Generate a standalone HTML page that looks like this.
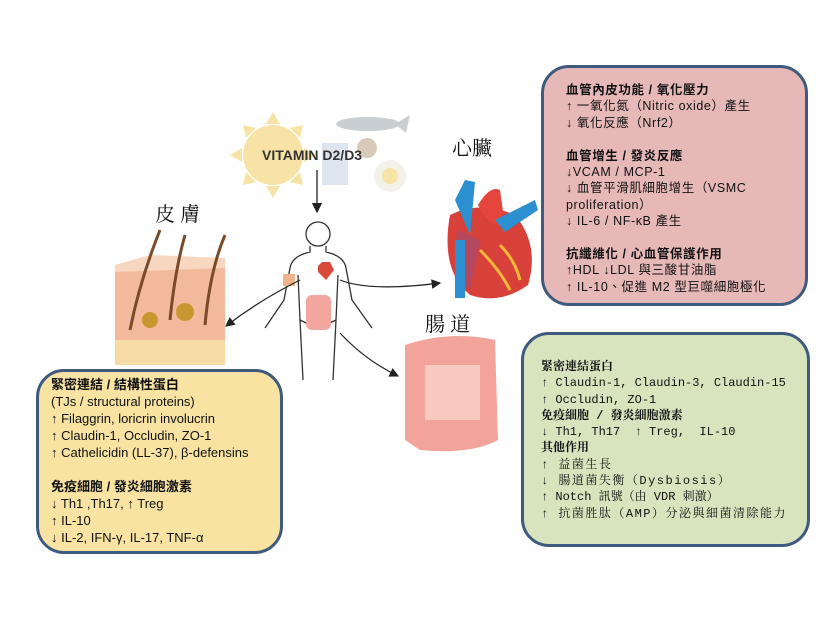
<!DOCTYPE html>
<html><head><meta charset="utf-8"><style>
body{margin:0;width:830px;height:623px;background:#fff;position:relative;overflow:hidden;font-family:"Liberation Sans","Noto Sans CJK TC",sans-serif}
.box{position:absolute;border:3px solid #3e5a7e;border-radius:28px;box-sizing:border-box;color:#111;white-space:nowrap}
.b{font-weight:bold}
.lbl{position:absolute;font-family:"Noto Serif CJK SC","Noto Sans CJK TC",serif;font-size:20px;color:#111}
</style></head><body>
<svg width="830" height="623" style="position:absolute;left:0;top:0">
<defs><marker id="a" markerWidth="8" markerHeight="8" refX="7" refY="4" orient="auto"><path d="M0,0L8,4L0,8z" fill="#222"/></marker></defs>
<g fill="#f8e3a6"><circle cx="273" cy="155" r="30"/>
<polygon points="273,112 266,124 280,124"/><polygon points="273,198 266,186 280,186"/>
<polygon points="230,155 242,148 242,162"/><polygon points="316,155 304,148 304,162"/>
<polygon points="243,125 256,128 246,138"/><polygon points="303,125 290,128 300,138"/>
<polygon points="243,185 256,182 246,172"/><polygon points="303,185 290,182 300,172"/></g>
<ellipse cx="368" cy="124" rx="32" ry="7" fill="#c9ced3"/><polygon points="395,124 410,115 406,133" fill="#c9ced3"/>
<rect x="322" y="143" width="26" height="42" fill="#dde6ee"/>
<circle cx="367" cy="148" r="10" fill="#d9c9b8"/>
<circle cx="390" cy="176" r="16" fill="#f3f1e8"/><circle cx="390" cy="176" r="8" fill="#f8e3a6"/>
<line x1="317" y1="170" x2="317" y2="212" stroke="#222" stroke-width="1.3" marker-end="url(#a)"/>
<g fill="none" stroke="#333" stroke-width="1.3">
<circle cx="318" cy="234" r="12"/>
<path d="M310,246 L310,252 Q292,256 290,268 L284,300 L265,328 M326,246 L326,252 Q344,256 346,268 L352,300 L372,328 M298,275 L300,320 L303,380 M338,275 L336,320 L333,380 M300,320 Q318,330 336,320"/>
</g>
<rect x="283" y="274" width="12" height="12" fill="#f2b58b"/>
<path d="M318,266 l4,-4 8,0 4,8 -8,10 -8,-8z" fill="#d84b3b"/>
<rect x="306" y="295" width="25" height="35" rx="6" fill="#f3a5a0"/>
<path d="M450,215 Q440,270 470,295 Q500,305 528,285 Q540,245 515,215 Q480,200 450,215z" fill="#d8413a"/>
<path d="M458,230 Q450,270 470,290 L480,240z" fill="#b4485f"/>
<rect x="455" y="240" width="10" height="58" fill="#2b8fd0"/>
<path d="M455,200 L465,180 L475,182 L470,235z" fill="#2b8fd0"/>
<path d="M478,205 Q490,185 500,190 L505,225 Q490,230 478,205z" fill="#e4453d"/>
<path d="M495,220 L535,200 L538,210 L505,232z" fill="#2b8fd0"/>
<path d="M480,250 Q500,270 510,290 M500,245 Q515,260 520,280" stroke="#f5b738" stroke-width="3" fill="none"/>
<rect x="115" y="265" width="110" height="100" fill="#f2b99c"/>
<polygon points="115,265 150,255 225,258 225,268 115,272" fill="#f8d7c0"/>
<rect x="115" y="340" width="110" height="25" fill="#f7dda5"/>
<g stroke="#7a4a2a" stroke-width="3" fill="none"><path d="M130,330 Q140,280 160,230"/><path d="M170,320 Q175,270 185,235"/><path d="M205,325 Q210,270 225,235"/></g>
<circle cx="150" cy="320" r="8" fill="#c9962f"/><circle cx="185" cy="312" r="9" fill="#c9962f"/>
<path d="M405,345 Q450,330 495,340 L498,440 Q470,455 420,450 L405,440z" fill="#f2a49a"/>
<rect x="425" y="365" width="55" height="55" fill="#f8c9c0"/>
<g fill="none" stroke="#222" stroke-width="1.2">
<path d="M300,280 Q260,300 226,326" marker-end="url(#a)"/>
<path d="M340,280 Q370,292 440,283" marker-end="url(#a)"/>
<path d="M340,333 Q365,360 398,376" marker-end="url(#a)"/></g>
</svg>
<div style="position:absolute;left:262px;top:147px;font-weight:bold;font-size:14px;color:#333">VITAMIN D2/D3</div>
<div class="lbl" style="left:155px;top:198px">皮 膚</div>
<div class="lbl" style="left:452px;top:132px">心臟</div>
<div class="lbl" style="left:425px;top:308px">腸 道</div>

<div class="box" style="left:541px;top:65px;width:267px;height:241px;background:#e6b8b7;padding:14px 0 0 22px;font-size:12.5px;line-height:16.4px;letter-spacing:0.6px">
<div class="b">血管內皮功能 / 氧化壓力</div>
<div>↑ 一氧化氮（Nitric oxide）產生</div>
<div>↓ 氧化反應（Nrf2）</div><br>
<div class="b">血管增生 / 發炎反應</div>
<div>↓VCAM / MCP-1</div>
<div>↓ 血管平滑肌細胞增生（VSMC</div>
<div>proliferation）</div>
<div>↓ IL-6 / NF-κB 產生</div><br>
<div class="b">抗纖維化 / 心血管保護作用</div>
<div>↑HDL ↓LDL 與三酸甘油脂</div>
<div>↑ IL-10、促進 M2 型巨噬細胞極化</div>
</div>

<div class="box" style="left:521px;top:332px;width:289px;height:215px;background:#d7e4bd;padding:24px 0 0 17px;font-size:12px;line-height:16.3px;font-family:'Liberation Mono','Noto Serif CJK SC',monospace">
<div class="b">緊密連結蛋白</div>
<div>↑ Claudin-1,  Claudin-3, Claudin-15</div>
<div>↑ Occludin, ZO-1</div>
<div class="b">免疫細胞 / 發炎細胞激素</div>
<div>↓ Th1, Th17 &nbsp;↑ Treg,&nbsp; IL-10</div>
<div class="b">其他作用</div>
<div style="letter-spacing:1.5px">↑ 益菌生長</div>
<div style="letter-spacing:1.5px">↓ 腸道菌失衡（Dysbiosis）</div>
<div>↑ Notch 訊號（由 VDR 刺激）</div>
<div style="letter-spacing:1.5px">↑ 抗菌胜肽（AMP）分泌與細菌清除能力</div>
</div>

<div class="box" style="left:36px;top:369px;width:247px;height:185px;background:#f9e3a3;padding:4px 0 0 12px;font-size:13px;line-height:17px">
<div class="b">緊密連結 / 結構性蛋白</div>
<div>(TJs / structural proteins)</div>
<div>↑ Filaggrin, loricrin involucrin</div>
<div>↑ Claudin-1, Occludin, ZO-1</div>
<div>↑ Cathelicidin (LL-37), β-defensins</div><br>
<div class="b">免疫細胞 / 發炎細胞激素</div>
<div>↓ Th1 ,Th17, ↑ Treg</div>
<div>↑ IL-10</div>
<div>↓ IL-2, IFN-γ, IL-17, TNF-α</div>
</div>
</body></html>
